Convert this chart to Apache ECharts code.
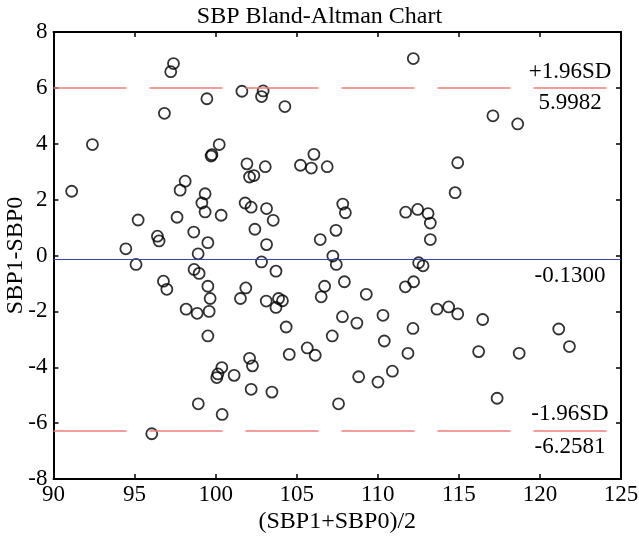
<!DOCTYPE html>
<html>
<head>
<meta charset="utf-8">
<script src="https://cdn.jsdelivr.net/npm/echarts@6/dist/echarts.min.js"></script>
<style>html,body{margin:0;padding:0;background:#fff}#c{width:639px;height:540px}</style>
</head>
<body>
<div id="c"></div>
<script>
// (SBP1+SBP0)/2 values
const xVals = [97.40,97.23,96.84,92.40,91.12,98.12,97.81,99.15,95.22,97.62,98.65,96.41,96.51,94.46,98.92,95.09,96.78,96.99,98.67,98.98,
  98.18,98.86,98.93,96.06,99.46,101.62,102.93,102.83,104.27,100.22,99.77,99.72,101.93,103.06,102.09,102.36,105.23,106.06,105.90,106.88,
  99.35,99.35,100.34,101.82,102.19,103.14,103.55,107.84,108.00,99.52,102.42,103.14,106.45,107.42,102.83,107.23,103.72,107.44,99.52,99.66,
  99.60,101.86,101.53,103.12,103.88,104.12,103.72,106.72,106.51,107.94,107.82,99.52,104.35,104.54,105.65,106.14,107.19,102.09,102.27,100.38,
  100.14,100.07,101.14,102.19,103.47,100.40,107.58,112.19,117.10,118.63,114.93,114.77,111.72,112.46,113.10,113.24,113.24,112.52,112.79,109.29,
  111.70,112.21,108.71,110.32,110.40,112.17,111.86,113.65,114.37,114.93,116.47,116.22,108.82,110.01,110.90,121.16,121.82,118.72,117.36];
// SBP1-SBP0 values
const yVals = [6.87,6.58,5.09,3.97,2.30,2.66,2.34,1.88,1.27,1.37,0.84,0.69,0.52,0.24,0.06,-0.32,-0.92,-1.21,-0.50,-0.64,
  -1.92,-2.07,-5.31,-6.38,5.61,5.88,5.89,5.69,5.33,3.97,3.61,3.56,3.28,3.18,2.81,2.86,3.23,3.62,3.13,3.18,
  2.21,1.56,1.44,1.88,1.73,1.68,1.26,1.84,1.53,0.46,0.94,0.39,0.57,0.90,-0.23,-0.02,-0.56,-0.32,-1.10,-1.54,
  -2.00,-1.16,-1.54,-1.63,-1.54,-1.62,-1.86,-1.10,-1.48,-0.94,-2.19,-2.88,-2.56,-3.54,-3.31,-3.57,-2.88,-3.68,-3.95,-4.01,
  -4.24,-4.37,-4.29,-4.79,-4.89,-5.69,-5.31,7.05,5.00,4.71,3.32,2.25,1.55,1.65,1.50,1.16,0.57,-0.26,-0.37,-1.39,
  -1.12,-0.94,-2.42,-2.14,-3.06,-2.61,-3.50,-1.92,-1.84,-2.09,-2.29,-3.44,-4.34,-4.53,-4.14,-2.63,-3.26,-3.50,-5.11];
const meanDiff = -0.13;
const upperLoA = 5.9982;
const lowerLoA = -6.2581;
const upperName = '+1.96SD', lowerName = '-1.96SD';
const meanText = '-0.1300', upperText = '5.9982', lowerText = '-6.2581';

const FONT = '"Liberation Serif","Times New Roman",serif';
const points = xVals.map((x, i) => [x, yVals[i]]);
const red = '#f07c7c', blue = '#3646ac';
const lblRich = { a: { width: 92, align: 'center', fontFamily: FONT, fontSize: 23, color: '#000', lineHeight: 31 } };

const chart = echarts.init(document.getElementById('c'), null, { renderer: 'canvas' });
const axisCommon = {
  axisLine: { show: true, onZero: false, lineStyle: { color: '#000', width: 2 } },
  axisTick: { show: true, inside: true, length: 5, lineStyle: { color: '#000', width: 1.5 } },
  splitLine: { show: false }
};
chart.setOption({
  animation: false,
  backgroundColor: '#fff',
  title: {
    text: 'SBP Bland-Altman Chart', left: 'center', top: 0,
    textStyle: { fontFamily: FONT, fontSize: 24, fontWeight: 'normal', color: '#000' }
  },
  grid: { left: 53.5, right: 18, top: 32, bottom: 61, containLabel: false, outerBoundsMode: 'none' },
  xAxis: [
    Object.assign({
      type: 'value', min: 90, max: 125, interval: 5, position: 'bottom',
      name: '(SBP1+SBP0)/2', nameLocation: 'middle', nameGap: 31, nameMoveOverlap: false,
      nameTextStyle: { fontFamily: FONT, fontSize: 24, color: '#000' },
      axisLabel: { fontFamily: FONT, fontSize: 23, color: '#000', margin: 4 }
    }, axisCommon),
    Object.assign({
      type: 'value', min: 90, max: 125, interval: 5, position: 'top',
      axisLabel: { show: false }
    }, axisCommon)
  ],
  yAxis: [
    Object.assign({
      type: 'value', min: -8, max: 8, interval: 2, position: 'left',
      name: 'SBP1-SBP0', nameLocation: 'middle', nameGap: 26, nameRotate: 90, nameMoveOverlap: false,
      nameTextStyle: { fontFamily: FONT, fontSize: 24, color: '#000' },
      axisLabel: { fontFamily: FONT, fontSize: 23, color: '#000', margin: 6 }
    }, axisCommon),
    Object.assign({
      type: 'value', min: -8, max: 8, interval: 2, position: 'right',
      axisLabel: { show: false }
    }, axisCommon)
  ],
  series: [{
    type: 'scatter',
    data: points,
    symbol: 'circle',
    symbolSize: 11,
    itemStyle: { color: 'rgba(0,0,0,0)', borderColor: '#000', borderWidth: 1.8 },
    markLine: {
      silent: true, symbol: 'none', animation: false,
      data: [
        { yAxis: upperLoA, lineStyle: { color: red, width: 1.5, type: [73, 23] },
          label: { position: 'insideEnd', distance: 5, formatter: '{a|' + upperName + '}\n{a|' + upperText + '}', rich: lblRich } },
        { yAxis: meanDiff, lineStyle: { color: blue, width: 1, type: 'solid' },
          label: { position: 'insideEndBottom', distance: [5, 1], formatter: '{a|' + meanText + '}', rich: lblRich } },
        { yAxis: lowerLoA, lineStyle: { color: red, width: 1.5, type: [73, 23] },
          label: { position: 'insideEnd', distance: 5, formatter: '{a|' + lowerName + '}\n{a|' + lowerText + '}', rich: { a: Object.assign({}, lblRich.a, { lineHeight: 33 }) } } }
      ]
    }
  }]
});
</script>
</body>
</html>
